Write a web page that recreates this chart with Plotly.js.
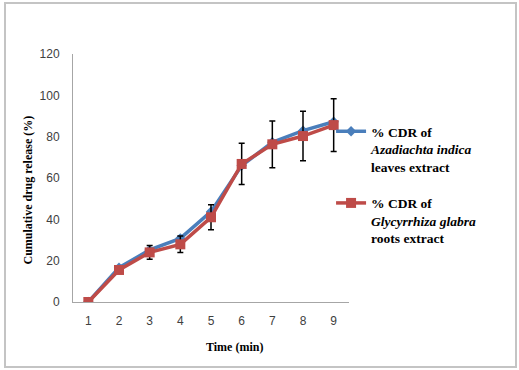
<!DOCTYPE html>
<html>
<head>
<meta charset="utf-8">
<script src="https://cdn.plot.ly/plotly-3.0.1.min.js"></script>
<style>
html,body{margin:0;padding:0;background:#fff;}
#chart{width:519px;height:370px;}
</style>
</head>
<body>
<div id="chart"></div>
<script>
var timeLabels = ["1","2","3","4","5","6","7","8","9"];
var azadirachtaCDR = [0, 16.6, 25.2, 30.8, 43.7, 66, 77.3, 82.9, 87.2];
var glycyrrhizaCDR = [0, 15.5, 24, 27.9, 41, 66.8, 76.3, 80.3, 85.6];
var glycyrrhizaErr = [0, 0, 3.3, 4, 6, 10, 11.3, 12, 12.8];
var yTicks = [0, 20, 40, 60, 80, 100, 120];

var traces = [
  {
    x: timeLabels, y: azadirachtaCDR, type: 'scatter', mode: 'lines+markers',
    name: '<b>% CDR of<br><i>Azadiachta indica</i><br>leaves extract</b>',
    legendgroup: 'a',
    line: {color: '#4A7EBB', width: 3.5},
    marker: {symbol: 'diamond', size: 8, color: '#4A7EBB'}
  },
  {
    x: timeLabels, y: glycyrrhizaCDR, type: 'scatter', mode: 'lines+markers',
    name: '<b>% CDR of<br><i>Glycyrrhiza glabra</i><br>roots extract</b>',
    legendgroup: 'b',
    line: {color: '#BE4B48', width: 3.5},
    marker: {symbol: 'square', size: 10, color: '#BE4B48'},
    error_y: {type: 'data', array: glycyrrhizaErr, visible: true, color: '#000000', thickness: 1.5, width: 3}
  }
];

var serif = 'Liberation Serif, Times New Roman, serif';
var sans = 'Liberation Sans, Arial, sans-serif';

var layout = {
  width: 519, height: 370,
  margin: {l: 73, r: 170, t: 54, b: 68},
  paper_bgcolor: '#ffffff', plot_bgcolor: '#ffffff',
  showlegend: true,
  legend: {
    x: 0.935, y: 0.75, xanchor: 'left', yanchor: 'top',
    font: {family: serif, size: 13.5, color: '#000'},
    bgcolor: 'rgba(0,0,0,0)', tracegroupgap: 16, valign: 'top',
    traceorder: 'grouped', itemwidth: 30
  },
  xaxis: {
    type: 'category', range: [-0.5, 8.5],
    showgrid: false, zeroline: false,
    showline: true, linecolor: '#a6a6a6', linewidth: 1,
    ticks: '', ticklabelstandoff: 8,
    tickfont: {family: sans, size: 12, color: '#404040'}
  },
  yaxis: {
    range: [0, 120], tickvals: yTicks,
    showgrid: false, zeroline: false,
    showline: true, linecolor: '#a6a6a6', linewidth: 1,
    ticks: '', ticklabelstandoff: 10,
    tickfont: {family: sans, size: 12, color: '#404040'}
  },
  annotations: [
    {text: '<b>Time (min)</b>', xref: 'paper', yref: 'paper', x: (234 - 73) / 276, y: (302 - 347) / 248,
     xanchor: 'center', yanchor: 'middle', showarrow: false, font: {family: serif, size: 12, color: '#000'}},
    {text: '<b>Cumulative drug release (%)</b>', xref: 'paper', yref: 'paper', x: (27 - 73) / 276, y: (302 - 190.5) / 248,
     xanchor: 'center', yanchor: 'middle', textangle: -90, showarrow: false, font: {family: serif, size: 12, color: '#000'}}
  ],
  shapes: [{
    type: 'rect', xref: 'paper', yref: 'paper',
    x0: (5 - 73) / 276, x1: (516 - 73) / 276,
    y0: (302 - 367) / 248, y1: (302 - 3) / 248,
    line: {color: '#c4c4c4', width: 2}, fillcolor: 'rgba(0,0,0,0)'
  }]
};

Plotly.newPlot('chart', traces, layout, {displayModeBar: false, staticPlot: true});
</script>
</body>
</html>
